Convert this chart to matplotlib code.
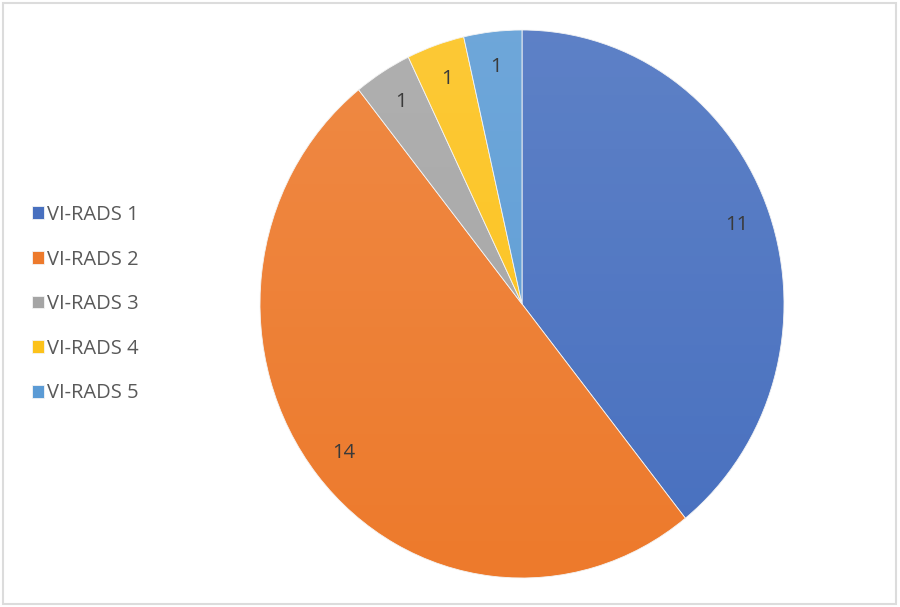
import numpy as np
import matplotlib.pyplot as plt
from matplotlib.patches import Rectangle, Ellipse

labels = ['VI-RADS 1', 'VI-RADS 2', 'VI-RADS 3', 'VI-RADS 4', 'VI-RADS 5']
counts = [11, 14, 1, 1, 1]
colors = ['#4870bf', '#ed7a2c', '#a5a5a5', '#fcc21b', '#5b9bd5']

plt.rcParams['font.family'] = ['Open Sans', 'DejaVu Sans']

fig = plt.figure(figsize=(9, 6.07), dpi=100)
ax = fig.add_axes([260 / 900, 29 / 607, 524 / 900, 548 / 607])

wedges, texts = ax.pie(counts, colors=colors, startangle=90, counterclock=False,
                       labels=[str(c) for c in counts], labeldistance=0.87,
                       wedgeprops=dict(linewidth=0.6, edgecolor='#f4f4f4'),
                       textprops=dict(color='#3a3a3a', fontsize=14.5))
for t in texts:
    t.set_horizontalalignment('center')
    t.set_verticalalignment('center')
ax.set_aspect('auto')
ax.set_xlim(-1.0, 1.0)
ax.set_ylim(-1.0, 1.0)

# soft vertical shading like the original office-style chart
shade = np.zeros((256, 1, 4))
shade[..., :3] = 1.0
shade[:, 0, 3] = 0.12 * np.linspace(0, 1, 256)
im = ax.imshow(shade, extent=[-1, 1, -1, 1], origin='lower', aspect='auto', zorder=2)
clip = Ellipse((0, 0), 2, 2, transform=ax.transData)
im.set_clip_path(clip)
for t in texts:
    t.set_zorder(3)

fig.legend(wedges, labels, loc='center left', bbox_to_anchor=(0.035, 0.499),
           frameon=False, fontsize=14.5, labelcolor='#595959',
           handlelength=0.6, handleheight=0.6, handletextpad=0.15,
           labelspacing=1.22, borderpad=0, borderaxespad=0)

fig.patches.append(Rectangle((0.003, 0.005), 0.993, 0.99, transform=fig.transFigure,
                             fill=False, edgecolor='#dcdcdc', linewidth=1.5))

fig.savefig('out.png', dpi=100, facecolor='white')
